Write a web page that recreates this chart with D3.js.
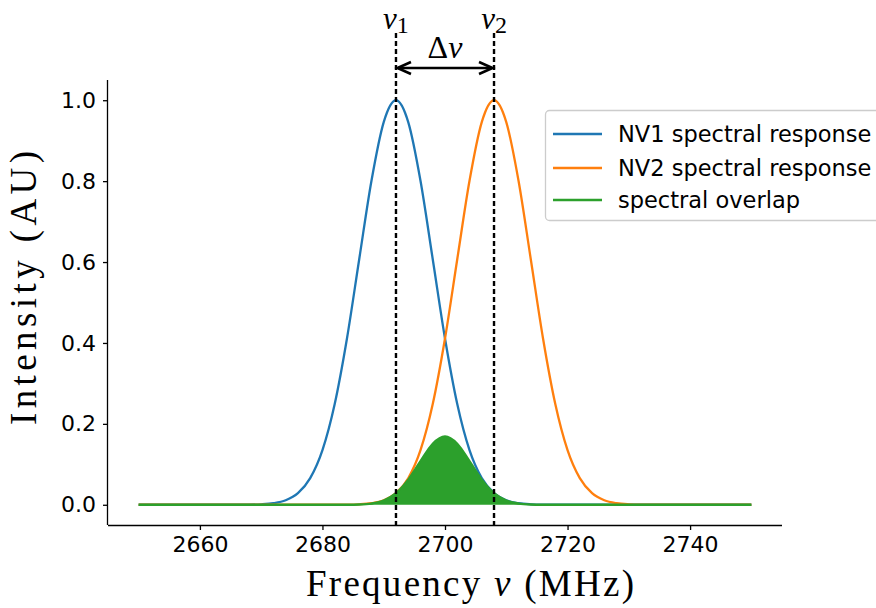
<!DOCTYPE html>
<html>
<head>
<meta charset="utf-8">
<script src="https://cdn.jsdelivr.net/npm/d3@7"></script>
<style>
  body { margin: 0; background: #fff; }
  svg { display: block; }
</style>
</head>
<body>
<svg id="chart" width="876" height="608"></svg>
<script>
// ---- data ----
const freq = [2650,2652,2654,2656,2658,2660,2662,2664,2666,2668,2670,2672,2674,2676,2678,2680,
  2682,2684,2686,2688,2690,2692,2694,2696,2698,2700,2702,2704,2706,2708,2710,2712,2714,2716,2718,
  2720,2722,2724,2726,2728,2730,2732,2734,2736,2738,2740,2742,2744,2746,2748,2750];
const nv1 = [0,0,0,0,0,0,0,0,0.0001,0.0003,0.0012,0.0039,0.0111,0.0286,0.0657,0.135,
  0.249,0.411,0.607,0.801,0.946,1.0,0.946,0.801,0.607,0.411,0.249,0.135,0.0657,0.0286,0.0111,0.0039,0.0012,0.0003,0.0001,
  0,0,0,0,0,0,0,0,0,0,0,0,0,0,0,0];
const nv2 = [0,0,0,0,0,0,0,0,0,0,0,0,0,0,0,0,
  0.0001,0.0003,0.0012,0.0039,0.0111,0.0286,0.0657,0.135,0.249,0.411,0.607,0.801,0.946,1.0,0.946,0.801,0.607,0.411,0.249,
  0.135,0.0657,0.0286,0.0111,0.0039,0.0012,0.0003,0.0001,0,0,0,0,0,0,0,0];
const overlap = [0,0,0,0,0,0,0,0,0,0,0,0,0,0,0,0,
  0,0.0001,0.0007,0.0031,0.0105,0.0285,0.0622,0.108,0.151,0.169,0.151,0.108,0.0622,0.0285,0.0105,0.0031,0.0007,0.0001,0,
  0,0,0,0,0,0,0,0,0,0,0,0,0,0,0,0];
const seriesNames = ["NV1 spectral response", "NV2 spectral response", "spectral overlap"];
const seriesColors = ["#1f77b4", "#ff7f0e", "#2ca02c"];
const xTicks = [2660, 2680, 2700, 2720, 2740];
const yTicks = [0.0, 0.2, 0.4, 0.6, 0.8, 1.0];
const nu1 = 2692, nu2 = 2708;

// ---- layout ----
const svg = d3.select("#chart");
const L = 108, R = 782, T = 80, B = 525;
const x = d3.scaleLinear().domain([2645, 2755]).range([L, R]);
const y = d3.scaleLinear().domain([-0.05, 1.05]).range([B, T]);
const tickFont = "'DejaVu Sans', sans-serif";
const serif = "'Liberation Serif', 'DejaVu Serif', serif";

const pts = (vals) => freq.map((f, i) => [f, vals[i]]);
const line = d3.line().x(d => x(d[0])).y(d => y(d[1])).curve(d3.curveMonotoneX);
const area = d3.area().x(d => x(d[0])).y0(y(0)).y1(d => y(d[1])).curve(d3.curveMonotoneX);

const plot = svg.append("g");
plot.append("path").datum(pts(nv1)).attr("d", line)
  .attr("fill", "none").attr("stroke", seriesColors[0]).attr("stroke-width", 2.3);
plot.append("path").datum(pts(nv2)).attr("d", line)
  .attr("fill", "none").attr("stroke", seriesColors[1]).attr("stroke-width", 2.3);
plot.append("path").datum(pts(overlap)).attr("d", area)
  .attr("fill", seriesColors[2]).attr("stroke", "none");
plot.append("path").datum(pts(overlap)).attr("d", line)
  .attr("fill", "none").attr("stroke", seriesColors[2]).attr("stroke-width", 2.3);

// dashed markers
[nu1, nu2].forEach(v => {
  svg.append("line").attr("x1", x(v)).attr("x2", x(v)).attr("y1", 33).attr("y2", B)
    .attr("stroke", "#000").attr("stroke-width", 2.4).attr("stroke-dasharray", "5,3");
});

// axes
const xAxis = d3.axisBottom(x).tickValues(xTicks).tickSize(5).tickPadding(6).tickFormat(d3.format("d"));
const gx = svg.append("g").attr("transform", `translate(0,${B})`).call(xAxis);
gx.select(".domain").attr("stroke-width", 1.3).attr("d", `M${L},0.5H${R}`);
gx.selectAll(".tick line").attr("stroke-width", 1.3);
gx.selectAll("text").attr("font-family", tickFont).attr("font-size", 22).attr("fill", "#000");

const yAxis = d3.axisLeft(y).tickValues(yTicks).tickSize(5).tickPadding(7).tickFormat(d3.format(".1f"));
const gy = svg.append("g").attr("transform", `translate(${L},0)`).call(yAxis);
gy.select(".domain").attr("stroke-width", 1.3).attr("d", `M-0.5,${T}V${B}`);
gy.selectAll(".tick line").attr("stroke-width", 1.3);
gy.selectAll("text").attr("font-family", tickFont).attr("font-size", 22).attr("fill", "#000");

// axis labels
svg.append("text").attr("x", 470).attr("y", 596).attr("text-anchor", "middle")
  .attr("font-family", serif).attr("font-size", 37).attr("fill", "#000")
  .attr("textLength", 328).attr("lengthAdjust", "spacing")
  .call(t => {
    t.append("tspan").text("Frequency ");
    t.append("tspan").attr("font-style", "italic").text("ν");
    t.append("tspan").text(" (MHz)");
  });
svg.append("text").attr("transform", `translate(36,288) rotate(-90)`)
  .attr("text-anchor", "middle").attr("font-family", serif).attr("font-size", 37).attr("fill", "#000")
  .attr("textLength", 274).attr("lengthAdjust", "spacing")
  .text("Intensity (AU)");

// annotations
function nuLabel(cx, sub) {
  const t = svg.append("text").attr("x", cx).attr("y", 29).attr("text-anchor", "middle")
    .attr("font-family", serif).attr("font-size", 31).attr("fill", "#000");
  t.append("tspan").attr("font-style", "italic").text("ν");
  t.append("tspan").attr("font-size", 24).attr("dy", 4).text(sub);
}
nuLabel(x(nu1), "1");
nuLabel(x(nu2), "2");
svg.append("text").attr("x", (x(nu1) + x(nu2)) / 2).attr("y", 58).attr("text-anchor", "middle")
  .attr("font-family", serif).attr("font-size", 32).attr("fill", "#000")
  .call(t => {
    t.append("tspan").text("Δ");
    t.append("tspan").attr("font-style", "italic").text("ν");
  });
const ay = 68, a1 = x(nu1), a2 = x(nu2);
svg.append("line").attr("x1", a1 + 2).attr("x2", a2 - 2).attr("y1", ay).attr("y2", ay)
  .attr("stroke", "#000").attr("stroke-width", 2.3);
svg.append("path").attr("d", `M${a1 + 15},${ay - 6}L${a1 + 1.5},${ay}L${a1 + 15},${ay + 6}`)
  .attr("fill", "none").attr("stroke", "#000").attr("stroke-width", 2.6);
svg.append("path").attr("d", `M${a2 - 15},${ay - 6}L${a2 - 1.5},${ay}L${a2 - 15},${ay + 6}`)
  .attr("fill", "none").attr("stroke", "#000").attr("stroke-width", 2.6);

// legend
const lg = svg.append("g");
lg.append("rect").attr("x", 545.5).attr("y", 110.5).attr("width", 360).attr("height", 110).attr("rx", 4)
  .attr("fill", "#fff").attr("fill-opacity", 0.8).attr("stroke", "#cccccc").attr("stroke-width", 1.3);
const rowY = [134, 168, 200];
seriesNames.forEach((n, i) => {
  lg.append("line").attr("x1", 553).attr("x2", 602).attr("y1", rowY[i]).attr("y2", rowY[i])
    .attr("stroke", seriesColors[i]).attr("stroke-width", 2.3);
  lg.append("text").attr("x", 618).attr("y", rowY[i] + 8).attr("font-family", tickFont)
    .attr("font-size", 22.5).attr("fill", "#000").text(n);
});
</script>
</body>
</html>
